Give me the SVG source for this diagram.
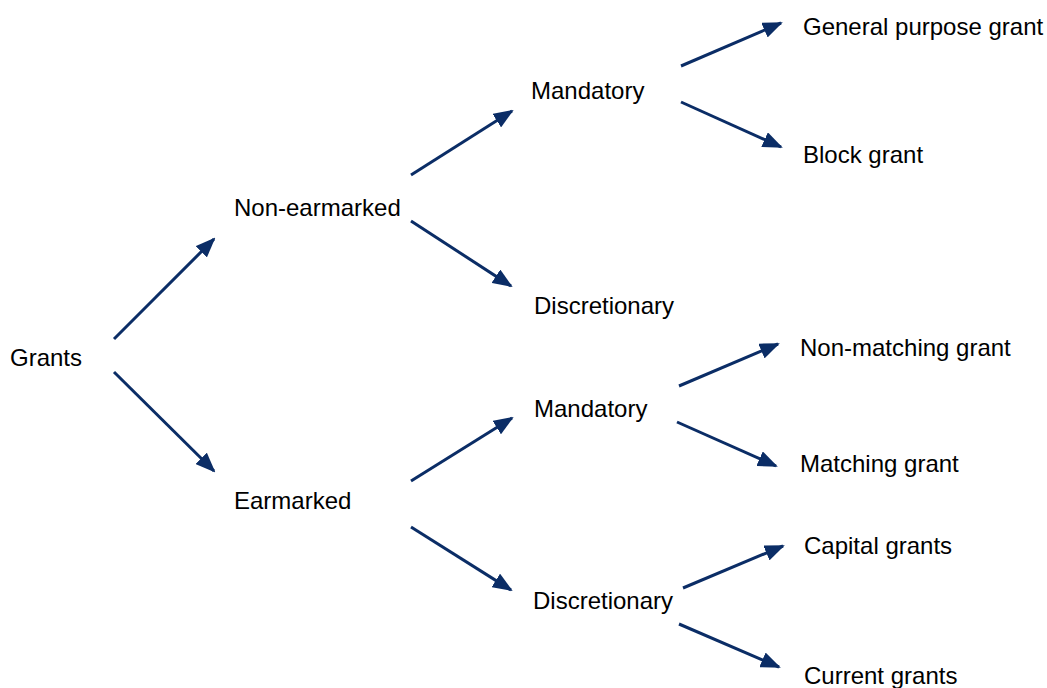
<svg xmlns="http://www.w3.org/2000/svg" width="1047" height="688" viewBox="0 0 1047 688">
<style>
.lbl{font-family:"Liberation Sans",Arial,sans-serif;font-size:24px;fill:#000}
.edge{stroke:#0B2D66;stroke-width:3;fill:none;marker-end:url(#ah)}
</style>
<defs>
<marker id="ah" markerUnits="userSpaceOnUse" markerWidth="20" markerHeight="16" viewBox="0 0 20 16" refX="18" refY="8" orient="auto">
<path d="M0,0 L20,8 L0,16 Z" fill="#0B2D66"/>
</marker>
</defs>
<rect width="1047" height="688" fill="#fff"/>
<g id="connectors">
<line class="edge" x1="114" y1="339" x2="214" y2="239"/>
<line class="edge" x1="114" y1="372" x2="214" y2="471"/>
<line class="edge" x1="411" y1="175" x2="512" y2="111"/>
<line class="edge" x1="411" y1="221" x2="511" y2="286"/>
<line class="edge" x1="681" y1="66" x2="781" y2="23"/>
<line class="edge" x1="681" y1="102" x2="781" y2="147"/>
<line class="edge" x1="411" y1="481" x2="512" y2="418"/>
<line class="edge" x1="411" y1="527" x2="511" y2="590"/>
<line class="edge" x1="679" y1="386" x2="778" y2="344"/>
<line class="edge" x1="677" y1="422" x2="776" y2="466"/>
<line class="edge" x1="683" y1="588" x2="783" y2="546"/>
<line class="edge" x1="679" y1="624" x2="779" y2="667"/>
</g>
<g id="grants"><text class="lbl" x="10" y="366">Grants</text></g>
<g id="non-earmarked"><text class="lbl" x="234" y="216">Non-earmarked</text></g>
<g id="earmarked"><text class="lbl" x="234" y="509">Earmarked</text></g>
<g id="mandatory1"><text class="lbl" x="531" y="99">Mandatory</text></g>
<g id="discretionary1"><text class="lbl" x="534" y="314">Discretionary</text></g>
<g id="mandatory2"><text class="lbl" x="534" y="417">Mandatory</text></g>
<g id="discretionary2"><text class="lbl" x="533" y="609">Discretionary</text></g>
<g id="general"><text class="lbl" x="803" y="35">General purpose grant</text></g>
<g id="block"><text class="lbl" x="803" y="163">Block grant</text></g>
<g id="nonmatching"><text class="lbl" x="800" y="356">Non-matching grant</text></g>
<g id="matching"><text class="lbl" x="800" y="472">Matching grant</text></g>
<g id="capital"><text class="lbl" x="804" y="554">Capital grants</text></g>
<g id="current"><text class="lbl" x="804" y="684">Current grants</text></g>
</svg>
